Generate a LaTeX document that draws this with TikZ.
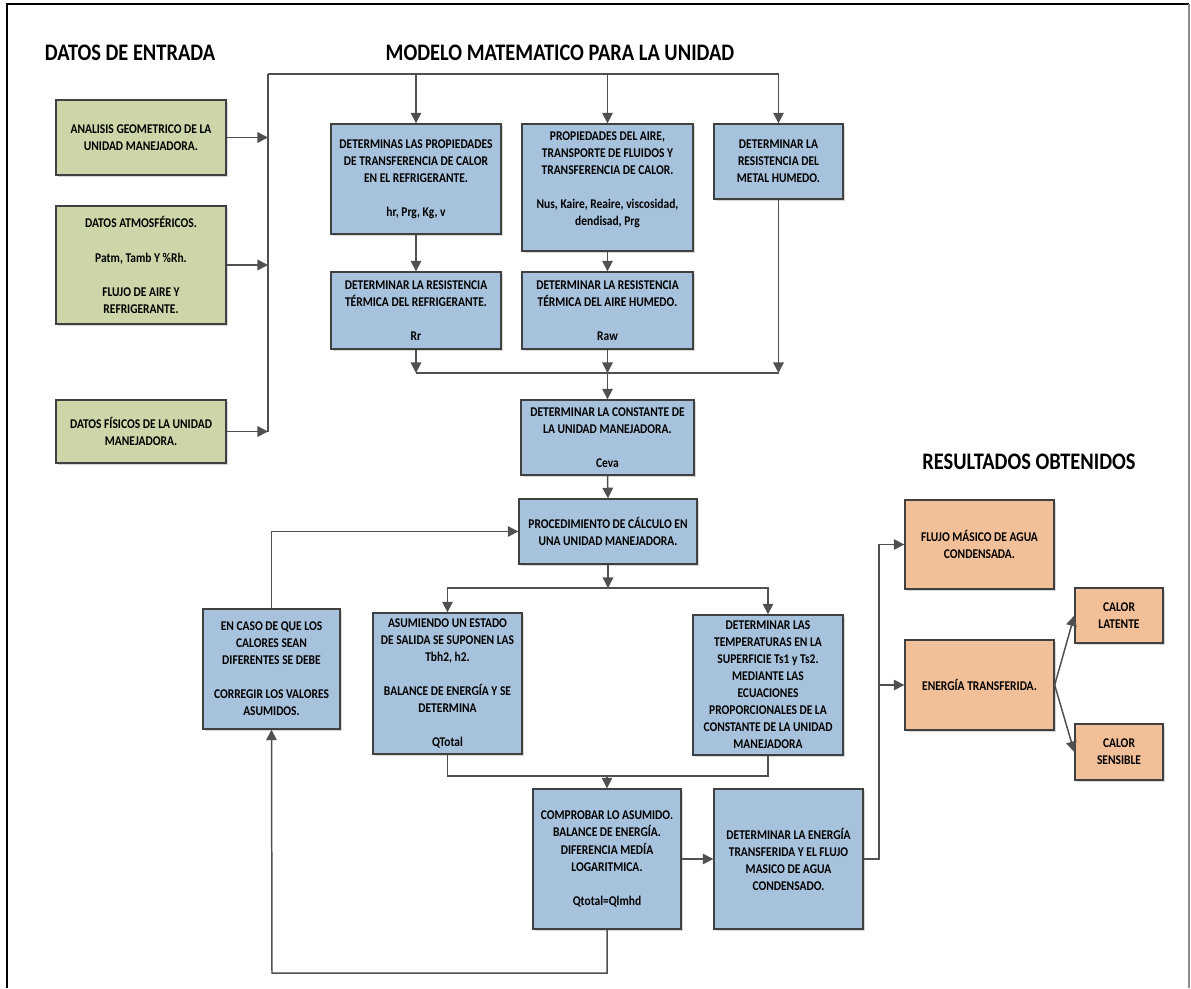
\documentclass[tikz,border=0pt]{standalone}
\usepackage{fontspec}
\setmainfont{Carlito}[FakeStretch=0.86]
\usepackage{tikz}
\usetikzlibrary{arrows.meta,shadows}
\usepackage{xcolor}
\definecolor{verde}{RGB}{205,214,168}
\definecolor{azul}{RGB}{167,194,220}
\definecolor{naranja}{RGB}{242,192,152}
\definecolor{borde}{RGB}{64,64,64}
\definecolor{conector}{RGB}{80,80,80}

\begin{document}
\begin{tikzpicture}[
    x=0.02cm,
    y=-0.02cm,
    font=\fontsize{7.6}{9.7}\selectfont\bfseries,
    titulo/.style={font=\fontsize{13.5}{16}\selectfont\bfseries,text=black},
    caja/.style={draw=borde,line width=0.8pt,align=center,inner sep=1pt,text=black,
      drop shadow={shadow xshift=1.2pt,shadow yshift=-1.2pt,fill=black!30}},
    entrada/.style={caja,fill=verde},
    modelo/.style={caja,fill=azul},
    resultado/.style={caja,fill=naranja},
    linea/.style={draw=conector,line width=0.85pt},
    flow/.style={linea,-{Triangle[length=6pt,width=6pt]}}
  ]
    \useasboundingbox (0,0) rectangle (1191,988);
    \draw[line width=1.2pt] (7,988) -- (7,4) -- (1189,4);
    \draw[black!45,line width=1pt] (1189,4) -- (1189,988);

    \node[titulo] (tentrada) at (130,53) {DATOS DE ENTRADA};
    \node[titulo] (tmodelo) at (560,53) {MODELO MATEMATICO PARA LA UNIDAD};
    \node[titulo] (tresultados) at (1029,462) {RESULTADOS OBTENIDOS};

    % datos de entrada
    \node[entrada,minimum width=3.40cm,minimum height=1.50cm] (geometria) at (141,137.5)
      {ANALISIS GEOMETRICO DE LA\\UNIDAD MANEJADORA.};
    \node[entrada,minimum width=3.40cm,minimum height=2.36cm] (atmosfera) at (141,265)
      {DATOS ATMOSFÉRICOS.\\[\baselineskip]Patm, Tamb Y \%Rh.\\[\baselineskip]FLUJO DE AIRE Y\\REFRIGERANTE.};
    \node[entrada,minimum width=3.40cm,minimum height=1.26cm] (fisicos) at (141,431.5)
      {DATOS FÍSICOS DE LA UNIDAD\\MANEJADORA.};

    % modelo matematico
    \node[modelo,minimum width=3.40cm,minimum height=2.20cm] (propref) at (416,179)
      {DETERMINAS LAS PROPIEDADES\\DE TRANSFERENCIA DE CALOR\\EN EL REFRIGERANTE.\\[\baselineskip]hr, Prg, Kg, v};
    \node[modelo,minimum width=3.42cm,minimum height=2.54cm] (propaire) at (607.5,187.5)
      {PROPIEDADES DEL AIRE,\\TRANSPORTE DE FLUIDOS Y\\TRANSFERENCIA DE CALOR.\\[\baselineskip]Nus, Kaire, Reaire, viscosidad,\\dendisad, Prg\\\mbox{}};
    \node[modelo,minimum width=2.58cm,minimum height=1.50cm] (metal) at (778.5,161.5)
      {DETERMINAR LA\\RESISTENCIA DEL\\METAL HUMEDO.};
    \node[modelo,minimum width=3.40cm,minimum height=1.54cm] (resref) at (416,310.5)
      {DETERMINAR LA RESISTENCIA\\TÉRMICA DEL REFRIGERANTE.\\[\baselineskip]Rr};
    \node[modelo,minimum width=3.42cm,minimum height=1.54cm] (resaire) at (607.5,310.5)
      {DETERMINAR LA RESISTENCIA\\TÉRMICA DEL AIRE HUMEDO.\\[\baselineskip]Raw};
    \node[modelo,minimum width=3.46cm,minimum height=1.50cm] (constante) at (607.5,437.5)
      {DETERMINAR LA CONSTANTE DE\\LA UNIDAD MANEJADORA.\\[\baselineskip]Ceva};
    \node[modelo,minimum width=3.56cm,minimum height=1.30cm] (calculo) at (608,531.5)
      {PROCEDIMIENTO DE CÁLCULO EN\\UNA UNIDAD MANEJADORA.};
    \node[modelo,minimum width=2.74cm,minimum height=2.40cm] (corregir) at (271.5,669)
      {EN CASO DE QUE LOS\\CALORES SEAN\\DIFERENTES SE DEBE\\[\baselineskip]CORREGIR LOS VALORES\\ASUMIDOS.};
    \node[modelo,minimum width=2.98cm,minimum height=2.82cm] (asumiendo) at (447.5,683.5)
      {ASUMIENDO UN ESTADO\\DE SALIDA SE SUPONEN LAS\\Tbh2, h2.\\[\baselineskip]BALANCE DE ENERGÍA Y SE\\DETERMINA\\[\baselineskip]QTotal};
    \node[modelo,minimum width=3.00cm,minimum height=2.80cm] (temperaturas) at (768,685)
      {DETERMINAR LAS\\TEMPERATURAS EN LA\\SUPERFICIE Ts1 y Ts2.\\MEDIANTE LAS\\ECUACIONES\\PROPORCIONALES DE LA\\CONSTANTE DE LA UNIDAD\\MANEJADORA};
    \node[modelo,minimum width=2.96cm,minimum height=2.80cm] (comprobar) at (607,859)
      {COMPROBAR LO ASUMIDO.\\BALANCE DE ENERGÍA.\\DIFERENCIA MEDÍA\\LOGARITMICA.\\[\baselineskip]Qtotal=Qlmhd};
    \node[modelo,minimum width=2.98cm,minimum height=2.80cm] (energia) at (788.5,859)
      {DETERMINAR LA ENERGÍA\\TRANSFERIDA Y EL FLUJO\\MASICO DE AGUA\\CONDENSADO.};

    % resultados
    \node[resultado,minimum width=2.98cm,minimum height=1.78cm] (flujo) at (979.5,544.5)
      {FLUJO MÁSICO DE AGUA\\CONDENSADA.};
    \node[resultado,minimum width=2.98cm,minimum height=1.80cm] (transferida) at (979.5,685)
      {ENERGÍA TRANSFERIDA.};
    \node[resultado,minimum width=1.76cm,minimum height=1.10cm] (latente) at (1119,615.5)
      {CALOR\\LATENTE};
    \node[resultado,minimum width=1.76cm,minimum height=1.12cm] (sensible) at (1119,752)
      {CALOR\\SENSIBLE};

    % conectores
    \coordinate (bustop) at (268,74);
    \coordinate (junta) at (607.5,373);
    \coordinate (reparto) at (608,588);
    \coordinate (union) at (607,776);
    \coordinate (salida) at (879,859);
    \coordinate (retorno) at (272,973);

    \draw[linea] (bustop) -- (fisicos.east -| bustop);
    \foreach \caja in {geometria,atmosfera,fisicos} {
      \draw[flow] (\caja.east) -- (\caja.east -| bustop);
    }
    \draw[flow] (bustop) -| (metal.north);
    \draw[flow] (propref.north |- bustop) -- (propref.north);
    \draw[flow] (propaire.north |- bustop) -- (propaire.north);
    \draw[flow] (propref.south) -- (resref.north);
    \draw[flow] (propaire.south) -- (resaire.north);

    \draw[linea] (resref.south |- junta) -- (metal.south |- junta);
    \foreach \caja in {resref,resaire,metal} {
      \draw[flow] (\caja.south) -- (\caja.south |- junta);
    }
    \draw[flow] (junta) -- (constante.north);
    \draw[flow] (constante.south) -- (calculo.north);

    \draw[flow] (calculo.south) -- (reparto);
    \draw[flow] (reparto) -| (asumiendo.north);
    \draw[flow] (reparto) -| (temperaturas.north);
    \draw[linea] (asumiendo.south) |- (union) -| (temperaturas.south);
    \draw[flow] (union) -- (comprobar.north);
    \draw[flow] (comprobar.east) -- (energia.west);

    \draw[flow] (comprobar.south) |- (retorno) -- (corregir.south);
    \draw[flow] (corregir.north) |- (calculo.west);

    \draw[flow] (energia.east) -- (salida) |- (flujo.west);
    \draw[flow] (salida |- transferida.west) -- (transferida.west);
    \draw[flow] (transferida.east) -- (latente.west);
    \draw[flow] (transferida.east) -- (sensible.west);
\end{tikzpicture}
\end{document}
